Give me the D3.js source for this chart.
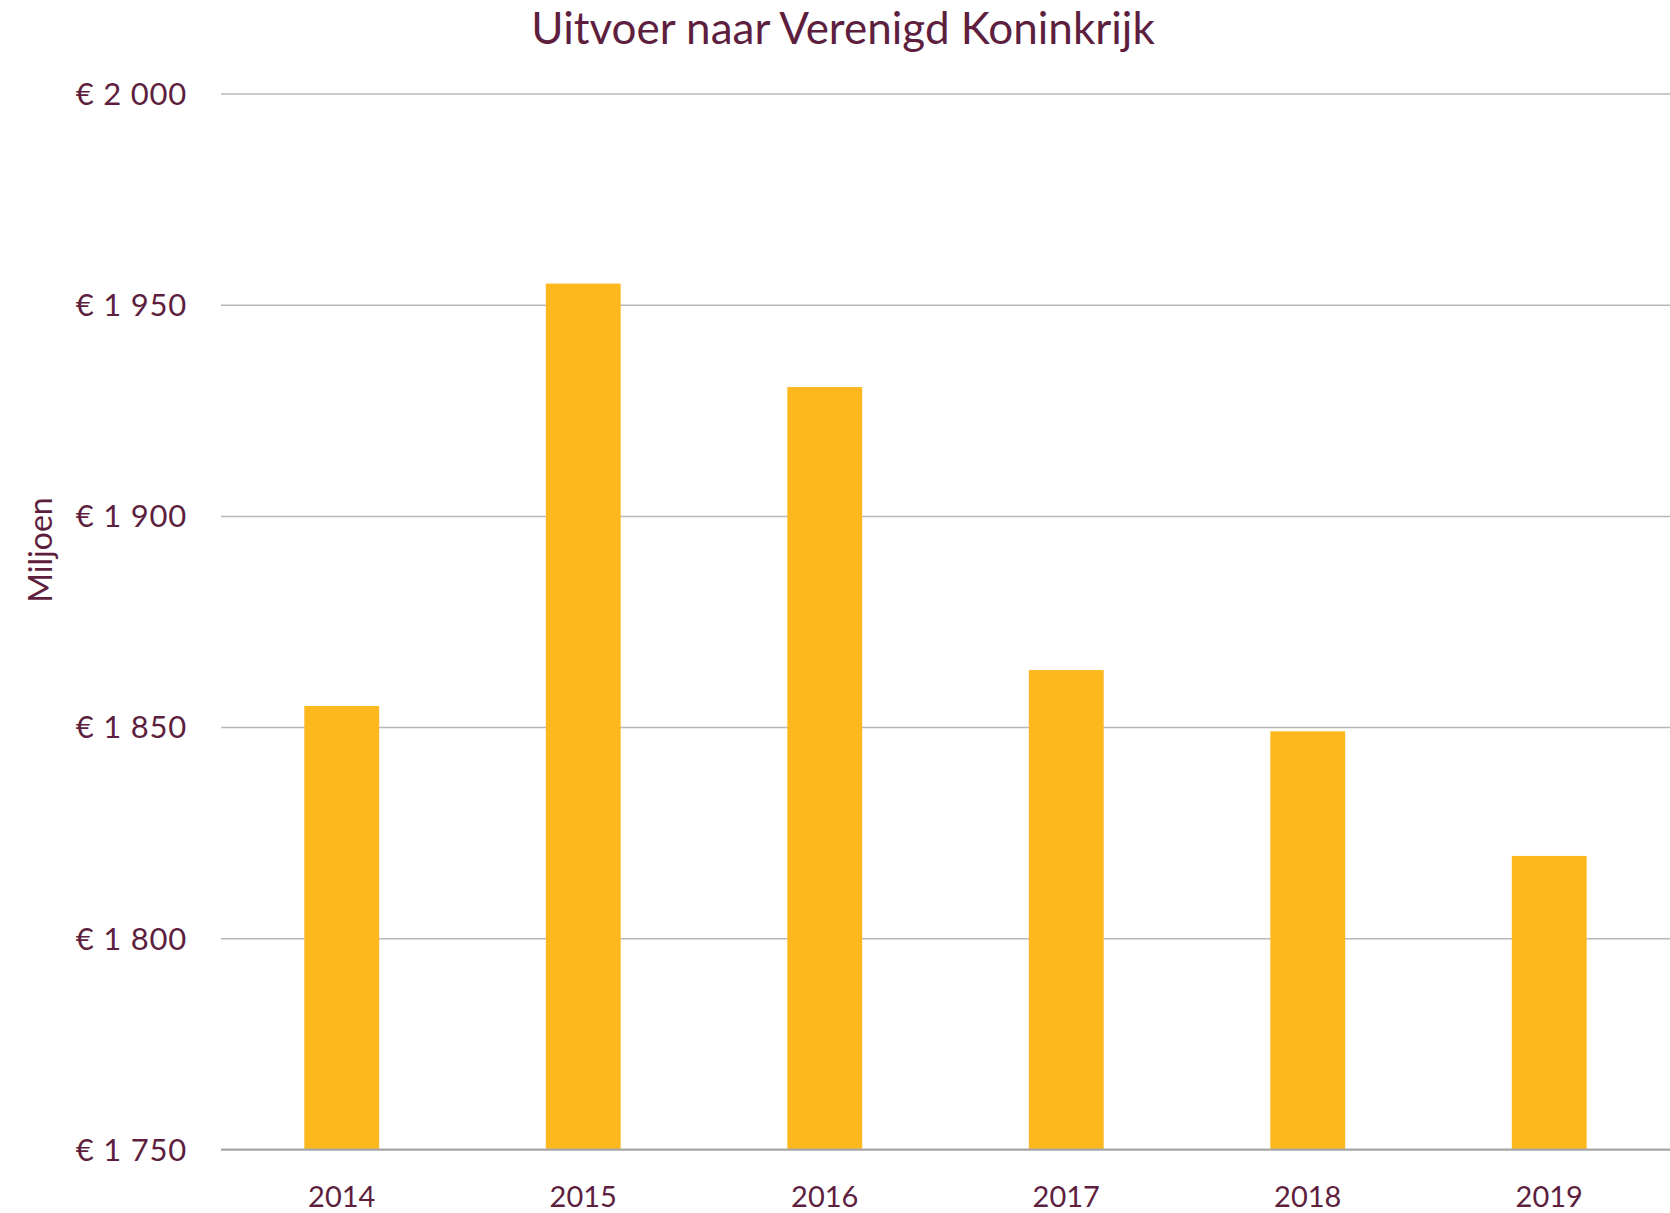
<!DOCTYPE html>
<html>
<head>
<meta charset="utf-8">
<script src="https://cdn.jsdelivr.net/npm/d3@7"></script>
<style>
  html, body { margin: 0; padding: 0; background: #ffffff; }
  svg { display: block; }
  text { font-family: Lato, "Noto Sans", sans-serif; fill: #5e1f3f; }
</style>
</head>
<body>
<script>
const categories = ["2014", "2015", "2016", "2017", "2018", "2019"];
const values = [1855, 1955, 1930.5, 1863.5, 1849, 1819.5];
const tickValues = [1750, 1800, 1850, 1900, 1950, 2000];
const tickLabels = ["€ 1 750", "€ 1 800", "€ 1 850", "€ 1 900", "€ 1 950", "€ 2 000"];
const titleText = "Uitvoer naar Verenigd Koninkrijk";
const yTitle = "Miljoen";

const W = 1670, H = 1213;
const margin = { left: 221, right: 0, top: 93.5, bottom: 1213 - 1149.5 };

const svg = d3.select("body").append("svg").attr("width", W).attr("height", H);

const x = d3.scaleBand()
  .domain(categories)
  .range([margin.left, W - margin.right])
  .paddingInner(0.69)
  .paddingOuter(0.345);

const y = d3.scaleLinear()
  .domain([1750, 2000])
  .range([H - margin.bottom, margin.top]);

// gridlines
const grid = svg.append("g")
  .attr("transform", `translate(${margin.left},0)`)
  .call(d3.axisLeft(y).tickValues(tickValues).tickSize(-(W - margin.left - margin.right)).tickFormat(""));
grid.select(".domain").remove();
grid.selectAll(".tick line").attr("stroke", "#b8b8b8").attr("stroke-width", 1.5);

// bars
svg.append("g").selectAll("rect")
  .data(values)
  .join("rect")
  .attr("x", (d, i) => x(categories[i]))
  .attr("width", x.bandwidth())
  .attr("y", d => y(d))
  .attr("height", d => y(1750) - y(d))
  .attr("fill", "#fdb81e");

// baseline
svg.append("line")
  .attr("x1", margin.left).attr("x2", W - margin.right)
  .attr("y1", y(1750)).attr("y2", y(1750))
  .attr("stroke", "#a8a8a8").attr("stroke-width", 2);

// y labels
const yAxis = svg.append("g")
  .attr("transform", `translate(187,0)`)
  .call(d3.axisLeft(y).tickValues(tickValues).tickSize(0).tickPadding(0)
    .tickFormat((d, i) => tickLabels[i]));
yAxis.select(".domain").remove();
yAxis.selectAll("text")
  .attr("font-family", "Lato, 'Noto Sans', sans-serif")
  .attr("font-size", 31)
  .attr("letter-spacing", 0.8)
  .attr("fill", "#5e1f3f")
  .attr("text-anchor", "end")
  .attr("dy", "0.35em");

// x labels
const xAxis = svg.append("g")
  .attr("transform", `translate(0,${y(1750)})`)
  .call(d3.axisBottom(x).tickSize(0).tickPadding(0));
xAxis.select(".domain").remove();
xAxis.selectAll("text")
  .attr("font-family", "Lato, 'Noto Sans', sans-serif")
  .attr("font-size", 29)
  .attr("fill", "#5e1f3f")
  .attr("dy", null)
  .attr("y", 57);

// title
svg.append("text")
  .attr("x", 843).attr("y", 44)
  .attr("text-anchor", "middle")
  .attr("font-size", 44)
  .text(titleText);

// y title
svg.append("text")
  .attr("transform", "translate(52,550) rotate(-90)")
  .attr("text-anchor", "middle")
  .attr("font-size", 32)
  .text(yTitle);
</script>
</body>
</html>
